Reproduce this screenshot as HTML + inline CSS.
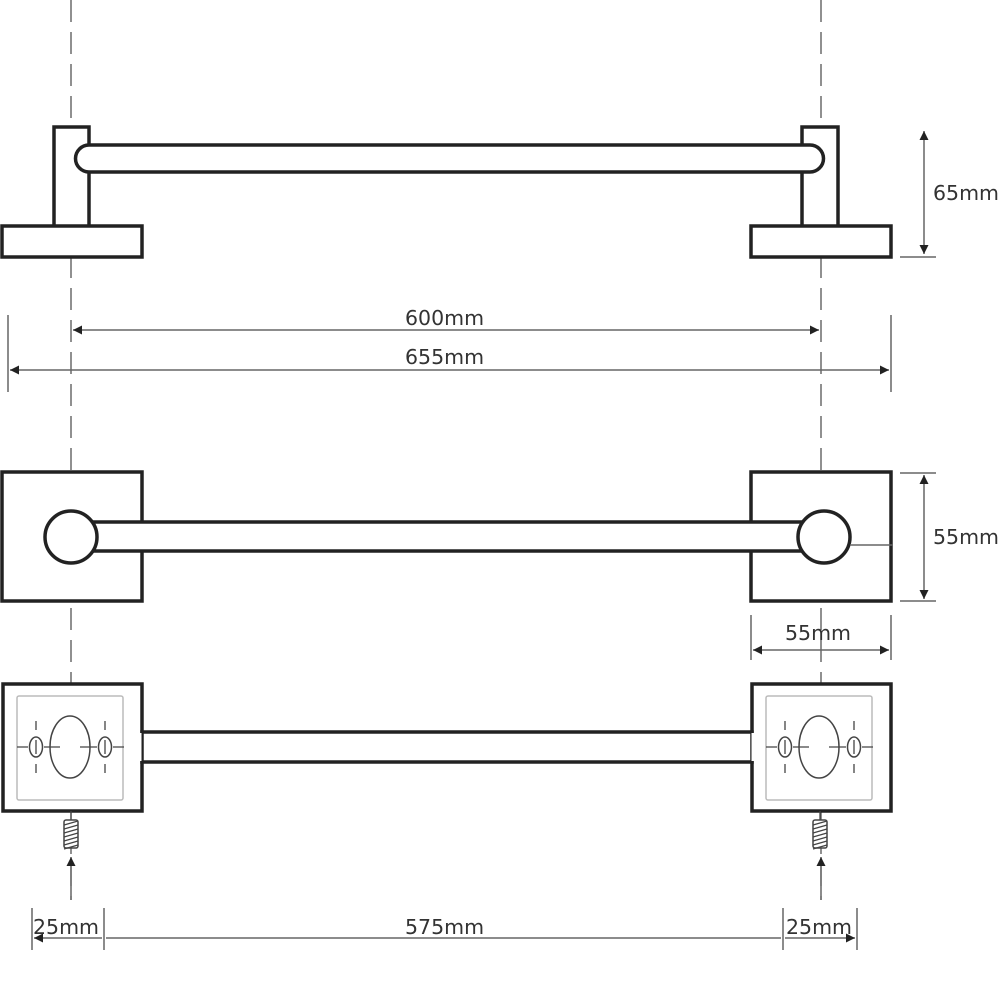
<!DOCTYPE html>
<html><head><meta charset="utf-8"><style>
html,body{margin:0;padding:0;background:#fff;}
svg{display:block;}
text{font-family:"DejaVu Sans","Liberation Sans",sans-serif;font-size:20.5px;fill:#333;}
</style></head><body>
<svg width="1000" height="1000" viewBox="0 0 1000 1000" xmlns="http://www.w3.org/2000/svg">
<defs>
<marker id="a" viewBox="0 0 10 10" refX="10" refY="5" markerWidth="10" markerHeight="9" orient="auto-start-reverse" markerUnits="userSpaceOnUse">
<path d="M0,0 L10,5 L0,10z" fill="#222"/></marker>
<g id="plate">
<rect x="3" y="684" width="139" height="127" fill="#fff" stroke="#222" stroke-width="3.5"/>
<rect x="17" y="696" width="106" height="104" fill="none" stroke="#bbb" stroke-width="1.5" rx="2"/>
<ellipse cx="70" cy="747" rx="20" ry="31" fill="none" stroke="#444" stroke-width="1.5"/>
<ellipse cx="36" cy="747" rx="6.5" ry="10" fill="none" stroke="#444" stroke-width="1.5"/>
<ellipse cx="105" cy="747" rx="6.5" ry="10" fill="none" stroke="#444" stroke-width="1.5"/>
<path d="M17,747H28 M36,740V754 M44,747H60 M80,747H97 M105,740V754 M113,747H124 M36,721V730 M36,764V773 M105,721V730 M105,764V773" stroke="#444" stroke-width="1.3"/>
<path d="M71,811V820" stroke="#444" stroke-width="1.3"/>
<rect x="64" y="820" width="14" height="28" fill="#fff" stroke="#444" stroke-width="1.5" rx="2"/>
<path d="M64,825L78,821 M64,829L78,825 M64,833L78,829 M64,837L78,833 M64,841L78,837 M64,845L78,841 M64,849L78,845" stroke="#444" stroke-width="1.2"/>
</g>
</defs>
<g stroke="#555" stroke-width="1.3" stroke-dasharray="22,10" fill="none">
<path d="M71,0V900"/><path d="M821,0V900"/>
</g>
<g stroke="#222" stroke-width="3.5" fill="#fff">
<rect x="54" y="127" width="35" height="100"/>
<rect x="802" y="127" width="36" height="100"/>
<rect x="2" y="226" width="140" height="31"/>
<rect x="751" y="226" width="140" height="31"/>
<path d="M89,145H810A13.5,13.5 0 0 1 810,172H89A13.5,13.5 0 0 1 89,145Z"/>
</g>
<g stroke="#666" stroke-width="1.5" fill="none">
<path d="M924,131V254" marker-start="url(#a)" marker-end="url(#a)"/>
<path d="M900,257H936"/>
<path d="M73,330H819" marker-start="url(#a)" marker-end="url(#a)"/>
<path d="M10,370H889" marker-start="url(#a)" marker-end="url(#a)"/>
<path d="M8,315V392 M891,315V392"/>
<path d="M900,473H936 M900,601H936"/>
<path d="M924,475V599" marker-start="url(#a)" marker-end="url(#a)"/>
<path d="M751,615V660 M891,615V660"/>
<path d="M753,650H889" marker-start="url(#a)" marker-end="url(#a)"/>
<path d="M71,900V857" marker-end="url(#a)"/>
<path d="M821,900V857" marker-end="url(#a)"/>
<path d="M32,908V950 M104,908V950 M783,908V950 M857,908V950"/>
<path d="M34,938H102 M106,938H781 M785,938H855" marker-start="url(#a)" marker-end="url(#a)"/>
</g>
<text x="933" y="200">65mm</text>
<text x="405" y="325">600mm</text>
<text x="405" y="364">655mm</text>
<text x="933" y="544">55mm</text>
<text x="785" y="640">55mm</text>
<text x="33" y="934">25mm</text>
<text x="405" y="934">575mm</text>
<text x="786" y="934">25mm</text>
<g stroke="#222" stroke-width="3.5" fill="#fff">
<rect x="2" y="472" width="140" height="129"/>
<rect x="751" y="472" width="140" height="129"/>
<rect x="90" y="522" width="715" height="29"/>
<circle cx="71" cy="537" r="26"/>
<circle cx="824" cy="537" r="26"/>
</g>
<path d="M850,545H893" stroke="#666" stroke-width="1.5"/>
<use href="#plate"/>
<use href="#plate" transform="translate(749,0)"/>
<rect x="142" y="732" width="610" height="30" fill="#fff" stroke="#222" stroke-width="3.5"/>
<path d="M140,733V761 M753,733V761" stroke="#fff" stroke-width="3"/>
</svg>
</body></html>
